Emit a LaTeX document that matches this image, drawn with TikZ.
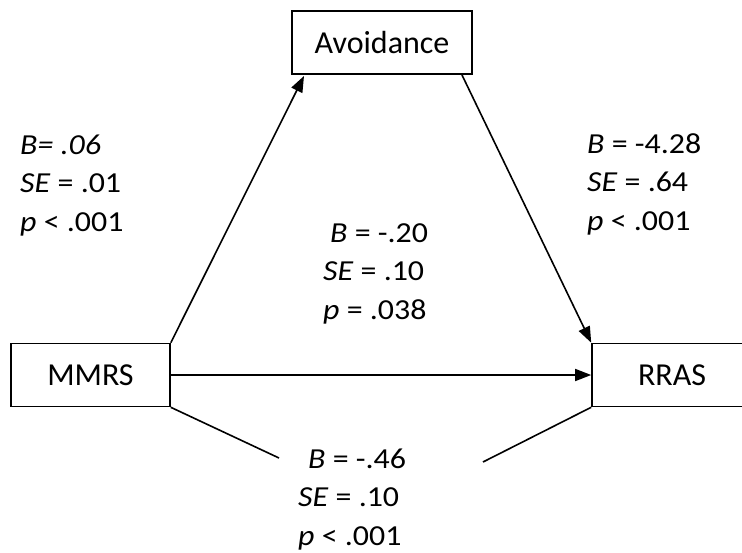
\documentclass[tikz,border=0pt]{standalone}
\usepackage{fontspec}
\setmainfont{Carlito}
\newfontfamily\statfont[FakeStretch=1.1]{Carlito}
\usetikzlibrary{arrows.meta}
\begin{document}
\begin{tikzpicture}[x=1pt,y=-1pt,
  varbox/.style={draw, line width=1.6pt, inner sep=0pt, minimum height=63pt, font=\fontsize{32}{37}\selectfont},
  conn/.style={line width=1.6pt},
  arr/.style={conn, -{Triangle[length=16pt,width=12pt]}},
  stat/.style={align=left, inner sep=0pt, anchor=base west, font=\statfont\fontsize{29}{38.5}\selectfont}]
\useasboundingbox (0,0) rectangle (742,552);
\node[varbox, minimum width=180pt] (avo) at (382,42.5) {Avoidance};
\node[varbox, minimum width=159pt] (mmrs) at (90.5,375) {MMRS};
\node[varbox, minimum width=160pt] (rras) at (672,375) {RRAS};
\coordinate (avotip) at (304,76);
\coordinate (avostart) at (462,75);
\draw[arr] (mmrs.north east) -- (avotip);
\draw[arr] (avostart) -- (rras.north west);
\draw[arr] (mmrs.east) -- (rras.west);
\coordinate (vl) at (279,458);
\coordinate (vr) at (483,462);
\draw[conn] (mmrs.south east) -- (vl);
\draw[conn] (rras.south west) -- (vr);
\node[stat] (lbla) at (20,231) {\textit{B= .06}\\\textit{SE} = .01\\\textit{p} < .001};
\node[stat] (lblb) at (587,230) {\textit{B} = -4.28\\\textit{SE} = .64\\\textit{p} < .001};
\node[stat] (lblc) at (323,319) {\hspace{7pt}\textit{B} = -.20\\\textit{SE} = .10\\\textit{p} = .038};
\node[stat] (lbld) at (298,545) {\hspace{10pt}\textit{B} = -.46\\\textit{SE} = .10\\\textit{p} < .001};
\end{tikzpicture}
\end{document}
